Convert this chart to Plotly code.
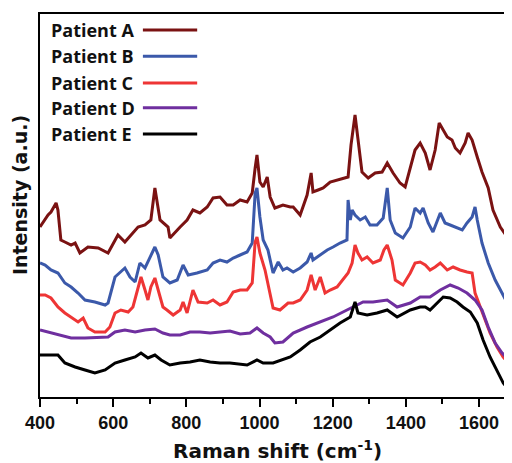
import plotly.graph_objects as go

# Raman shift (cm-1) and intensity (a.u.)
names = ["Patient A", "Patient B", "Patient C", "Patient D", "Patient E"]
colors = ["#7a1212", "#3b59aa", "#ee3535", "#6f2f9f", "#000000"]

xA = [400,422,430,444,449,457,468,485,496,509,531,559,586,613,632,649,668,687,703,714,728,750,755,783,802,818,837,857,873,892,911,928,947,966,980,988,993,1001,1010,1021,1029,1042,1064,1084,1092,1111,1130,1141,1146,1160,1174,1193,1212,1228,1242,1250,1261,1269,1280,1297,1316,1335,1349,1365,1384,1398,1412,1425,1439,1453,1466,1480,1491,1502,1513,1526,1535,1548,1562,1570,1581,1595,1608,1625,1638,1658,1677,1690]
yA = [170,182,185,194,187,157,155,152,154,144,150,149,144,162,155,162,170,172,177,209,177,170,159,170,177,187,184,190,199,200,192,192,197,195,204,229,242,215,210,220,200,189,192,190,190,182,202,224,205,207,209,215,217,219,220,252,282,258,225,219,224,225,234,224,214,210,230,247,254,244,227,247,274,267,260,257,249,244,254,264,257,240,225,209,187,170,160,150]

xB = [400,414,430,449,468,485,504,523,550,578,586,605,632,646,660,673,687,701,714,723,736,755,775,791,805,829,857,873,892,911,928,947,966,980,988,993,1001,1010,1023,1037,1051,1064,1075,1092,1111,1130,1141,1146,1166,1185,1201,1220,1239,1242,1248,1253,1261,1275,1289,1302,1321,1338,1349,1357,1371,1392,1412,1425,1439,1447,1461,1474,1494,1507,1521,1540,1554,1567,1581,1589,1595,1608,1625,1644,1663,1677,1690]
yB = [134,132,127,124,114,110,104,97,95,92,94,120,129,120,115,134,129,140,150,142,120,114,117,132,122,124,127,134,137,135,139,142,145,154,204,209,180,157,147,124,135,127,129,125,129,135,144,137,142,147,150,154,157,197,177,187,182,177,180,172,172,179,209,177,164,159,170,189,184,189,174,165,184,174,172,169,167,174,180,190,177,154,134,117,104,94,80]

xC = [400,414,430,449,468,485,504,518,531,550,578,591,605,621,641,654,668,676,687,695,703,714,723,736,747,764,783,791,802,818,832,857,873,892,911,928,947,966,980,988,993,1001,1015,1023,1037,1056,1078,1092,1111,1130,1141,1152,1166,1179,1193,1212,1228,1242,1253,1261,1269,1280,1294,1310,1330,1340,1349,1362,1371,1392,1412,1425,1439,1453,1466,1480,1494,1513,1529,1548,1567,1581,1589,1603,1617,1630,1649,1666,1690]
yC = [102,102,99,90,84,80,75,79,69,65,65,70,84,87,85,90,109,120,107,97,110,119,107,90,87,82,87,95,84,107,95,94,97,92,95,105,107,107,114,155,160,144,127,114,89,87,94,94,97,107,122,107,120,104,107,110,117,124,134,152,144,137,140,134,137,147,152,137,117,112,124,134,135,132,127,130,134,127,130,127,125,124,104,90,77,64,50,40,30]

xD = [400,422,449,485,523,559,586,605,632,660,687,714,736,755,783,810,837,865,892,919,947,974,993,1010,1029,1042,1064,1092,1130,1166,1201,1239,1267,1283,1310,1349,1376,1412,1439,1466,1494,1521,1543,1567,1589,1608,1625,1644,1663,1690]
yD = [67,65,62,59,59,60,60,65,67,65,67,68,64,62,62,65,65,64,65,66,63,64,69,64,60,54,55,64,70,75,80,87,92,95,95,97,90,94,100,100,107,112,109,104,97,87,70,54,44,34]

xE = [400,449,468,496,523,550,578,605,632,660,676,695,714,731,755,783,810,837,865,892,919,966,993,1010,1037,1064,1084,1111,1138,1166,1193,1220,1248,1261,1269,1294,1321,1349,1376,1412,1439,1453,1466,1485,1502,1521,1540,1556,1576,1595,1611,1630,1649,1666,1690]
yE = [42,42,34,30,27,24,27,34,37,40,44,39,42,37,32,34,35,37,35,34,34,32,37,34,34,37,40,47,55,60,67,74,80,95,84,82,84,87,80,87,90,90,87,94,100,99,95,90,85,74,57,40,27,14,4]

series = [(xA, yA), (xB, yB), (xC, yC), (xD, yD), (xE, yE)]

fig = go.Figure()
for (xs, ys), name, col in zip(series, names, colors):
    fig.add_trace(go.Scatter(x=xs, y=ys, mode="lines", name=name,
                             line=dict(color=col, width=3), showlegend=False))

# custom legend: text then line sample
leg_y = [0.958, 0.890, 0.820, 0.755, 0.687]
for name, col, yy in zip(names, colors, leg_y):
    fig.add_annotation(x=0.019, y=yy, xref="paper", yref="paper", text="<b>" + name + "</b>",
                       showarrow=False, xanchor="left", yanchor="middle",
                       font=dict(family="Open Sans", size=18, color="#111"))
    fig.add_shape(type="line", xref="paper", yref="paper", x0=0.218, x1=0.333,
                  y0=yy, y1=yy, line=dict(color=col, width=3))

# axis titles
fig.add_annotation(x=-0.0434, y=0.526, xref="paper", yref="paper",
                   text="<b>Intensity (a.u.)</b>", textangle=-90, showarrow=False,
                   xanchor="center", yanchor="middle",
                   font=dict(family="DejaVu Sans", size=19, color="#111"))
fig.add_annotation(x=0.504, y=-0.138, xref="paper", yref="paper",
                   text="<b>Raman shift (cm<sup>-1</sup>)</b>", showarrow=False,
                   xanchor="center", yanchor="middle",
                   font=dict(family="DejaVu Sans", size=20, color="#111"))

# page body has an 8px margin, so the figure is sized to fill the rest
fig.update_layout(
    width=504, height=455,
    margin=dict(l=32, r=0, t=6, b=66, autoexpand=False),
    plot_bgcolor="white", paper_bgcolor="white",
    font=dict(family="Liberation Sans", color="#111"),
    xaxis=dict(range=[400, 1690], tick0=400, dtick=200,
               ticks="outside", ticklen=8, tickwidth=2, tickcolor="black",
               minor=dict(dtick=100, ticks="outside", ticklen=5, tickwidth=2, tickcolor="black"),
               showline=True, linecolor="black", linewidth=2, mirror=True,
               showgrid=False, zeroline=False, automargin=False,
               tickfont=dict(size=18, family="Liberation Sans", weight="bold", color="#111")),
    yaxis=dict(range=[0, 383], showticklabels=False, ticks="",
               showline=True, linecolor="black", linewidth=2, mirror=False,
               showgrid=False, zeroline=False, automargin=False),
)

fig.write_html("out.html")
